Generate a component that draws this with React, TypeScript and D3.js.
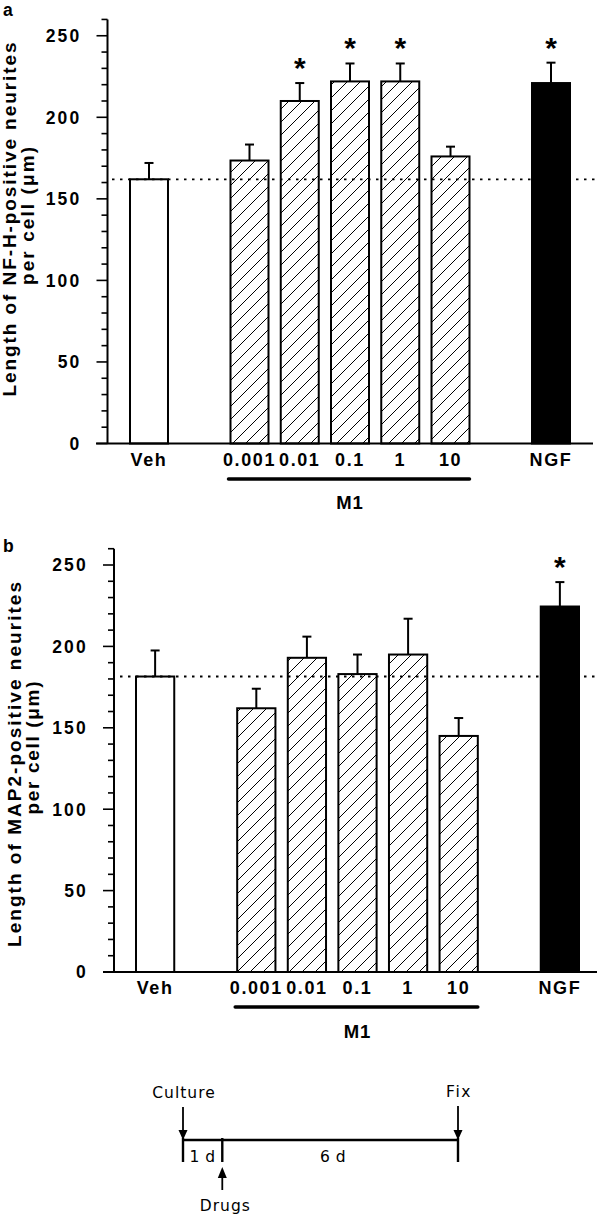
import React from "react";
import * as d3 from "d3";

// ---- data ----
const categories = ["Veh", "0.001", "0.01", "0.1", "1", "10", "NGF"];
// slot names on the x band scale (gap entries are empty slots)
const slotNames = ["Veh", "gapA", "0.001", "0.01", "0.1", "1", "10", "gapB", "NGF"];
const barStyles = ["open", "hatch", "hatch", "hatch", "hatch", "hatch", "solid"];
const groupLabel = "M1";
const groupMembers = ["0.001", "0.01", "0.1", "1", "10"];

const nfhMean = [162, 173.5, 210, 222, 222, 176, 221];
const nfhSem = [10, 9.8, 11, 11, 11, 6, 12.5];
const nfhSig = [false, false, true, true, true, false, true];

const map2Mean = [181.5, 162, 193, 183, 195, 145, 224.5];
const map2Sem = [16, 12, 13, 12, 22, 11, 15];
const map2Sig = [false, false, false, false, false, false, true];

const yMajorTicks = [0, 50, 100, 150, 200, 250];
const yDomainMax = 260;

const titleA = ["Length of NF-H-positive neurites", "per cell (\u03bcm)"];
const titleB = ["Length of MAP2-positive neurites", "per cell (\u03bcm)"];

const timelineLabels = { start: "Culture", drug: "Drugs", end: "Fix", d1: "1 d", d6: "6 d" };
const timelineDays = [0, 1, 7]; // culture, drugs, fix (days)

const FONT = "'Liberation Sans', Arial, Helvetica, sans-serif";

type PanelGeo = {
  letter: string;
  letterY: number;
  axisX: number;
  y0: number;
  yTop: number;
  bandRange: [number, number];
  baseLeft: number;
  baseRight: number;
  dotLeft: number;
  catLabelY: number;
  groupLineY: number;
  groupTextY: number;
  t1x: number;
  t1cy: number;
  t1len: number;
  t2x: number;
  t2cy: number;
  t2len: number;
};

function Panel({ geo, mean, sem, sig, title }: { geo: PanelGeo; mean: number[]; sem: number[]; sig: boolean[]; title: string[] }) {
  const y = d3.scaleLinear().domain([0, yDomainMax]).range([geo.y0, geo.yTop]);
  const x = d3.scaleBand<string>().domain(slotNames).range(geo.bandRange).paddingInner(0.244).paddingOuter(0);
  const bw = x.bandwidth();
  const minorTicks = d3.range(0, yDomainMax + 1, 10).filter((v) => v % 50 !== 0);
  const refY = y(mean[0]);
  const gFirst = x(groupMembers[0])!;
  const gLast = x(groupMembers[groupMembers.length - 1])! + bw;

  return (
    <g>
      <text x={3} y={geo.letterY} fontFamily={FONT} fontWeight="bold" fontSize={17.5}>
        {geo.letter}
      </text>
      {/* y title */}
      <text
        transform={`translate(${geo.t1x},${geo.t1cy}) rotate(-90)`}
        textAnchor="middle"
        fontFamily={FONT}
        fontWeight="bold"
        fontSize={19}
        textLength={geo.t1len}
        lengthAdjust="spacing"
      >
        {title[0]}
      </text>
      <text
        transform={`translate(${geo.t2x},${geo.t2cy}) rotate(-90)`}
        textAnchor="middle"
        fontFamily={FONT}
        fontWeight="bold"
        fontSize={19}
        textLength={geo.t2len}
        lengthAdjust="spacing"
      >
        {title[1]}
      </text>
      {/* bars */}
      {categories.map((c, i) => {
        const bx = x(c)!;
        const top = y(mean[i]);
        const fill = barStyles[i] === "open" ? "white" : barStyles[i] === "solid" ? "black" : "url(#hatch)";
        return (
          <rect key={c} x={bx} y={top} width={bw} height={geo.y0 - top} fill={fill} stroke="black" strokeWidth={2} />
        );
      })}
      {/* reference dotted line */}
      <line x1={geo.dotLeft} x2={597} y1={refY} y2={refY} stroke="black" strokeWidth={1.8} strokeDasharray="2.5 5.5" />
      {/* error bars */}
      {categories.map((c, i) => {
        const cx = x(c)! + bw / 2;
        const top = y(mean[i]);
        const et = y(mean[i] + sem[i]);
        return (
          <g key={"e" + c}>
            <line x1={cx} x2={cx} y1={top} y2={et} stroke="black" strokeWidth={2} />
            <line x1={cx - 4.5} x2={cx + 4.5} y1={et} y2={et} stroke="black" strokeWidth={2} />
          </g>
        );
      })}
      {/* significance stars */}
      {categories.map((c, i) =>
        sig[i] ? (
          <text
            key={"s" + c}
            x={x(c)! + bw / 2}
            y={y(mean[i] + sem[i]) - 22 + 17}
            textAnchor="middle"
            fontFamily={FONT}
            fontWeight="bold"
            fontSize={30}
          >
            *
          </text>
        ) : null
      )}
      {/* y axis */}
      <line x1={geo.axisX} x2={geo.axisX} y1={geo.yTop} y2={geo.y0} stroke="black" strokeWidth={2} />
      {yMajorTicks.map((t) => (
        <g key={"t" + t}>
          <line x1={geo.axisX - 11} x2={geo.axisX} y1={y(t)} y2={y(t)} stroke="black" strokeWidth={1.6} />
          <text
            x={geo.axisX - 26}
            y={y(t)}
            dy="0.36em"
            textAnchor="end"
            fontFamily={FONT}
            fontWeight="bold"
            fontSize={17.5}
            letterSpacing={2.2}
          >
            {t}
          </text>
        </g>
      ))}
      {minorTicks.map((t) => (
        <line key={"m" + t} x1={geo.axisX - 6} x2={geo.axisX} y1={y(t)} y2={y(t)} stroke="black" strokeWidth={1.6} />
      ))}
      {/* x baseline */}
      <line x1={geo.baseLeft} x2={geo.baseRight} y1={geo.y0} y2={geo.y0} stroke="black" strokeWidth={2} />
      {/* category labels */}
      {categories.map((c) => (
        <text
          key={"l" + c}
          x={x(c)! + bw / 2}
          y={geo.catLabelY}
          textAnchor="middle"
          fontFamily={FONT}
          fontWeight="bold"
          fontSize={18}
          letterSpacing={1.6}
        >
          {c}
        </text>
      ))}
      {/* group bracket */}
      <line x1={gFirst - 2} x2={gLast} y1={geo.groupLineY} y2={geo.groupLineY} stroke="black" strokeWidth={3.5} strokeLinecap="round" />
      <text
        x={(gFirst + gLast) / 2}
        y={geo.groupTextY}
        textAnchor="middle"
        fontFamily={FONT}
        fontWeight="bold"
        fontSize={18.5}
        letterSpacing={1}
      >
        {groupLabel}
      </text>
    </g>
  );
}

const geoA: PanelGeo = {
  letter: "a",
  letterY: 16,
  axisX: 107.5,
  y0: 443.5,
  yTop: 443.5 - yDomainMax * 1.631,
  bandRange: [130, 570],
  baseLeft: 96,
  baseRight: 593,
  dotLeft: 112,
  catLabelY: 466,
  groupLineY: 479,
  groupTextY: 509,
  t1x: 16,
  t1cy: 219.5,
  t1len: 354,
  t2x: 34,
  t2cy: 216,
  t2len: 138,
};

const geoB: PanelGeo = {
  letter: "b",
  letterY: 552,
  axisX: 114,
  y0: 972,
  yTop: 972 - yDomainMax * 1.628,
  bandRange: [136, 579],
  baseLeft: 103,
  baseRight: 597,
  dotLeft: 120,
  catLabelY: 994,
  groupLineY: 1007,
  groupTextY: 1038,
  t1x: 21,
  t1cy: 764.5,
  t1len: 365,
  t2x: 39,
  t2cy: 748,
  t2len: 133,
};

function Timeline() {
  const tx = d3.scaleLinear().domain([0, 7]).range([183, 458]);
  const lineY = 1140;
  const xs = timelineDays.map((d) => tx(d));
  const tf = "'DejaVu Sans', 'Liberation Sans', sans-serif";
  const downArrow = (cx: number, y1: number, tip: number) => (
    <g>
      <line x1={cx} x2={cx} y1={y1} y2={tip - 8} stroke="black" strokeWidth={1.8} />
      <path d={`M${cx - 4.5},${tip - 10} L${cx + 4.5},${tip - 10} L${cx},${tip} Z`} fill="black" />
    </g>
  );
  return (
    <g>
      <line x1={xs[0]} x2={xs[2]} y1={lineY} y2={lineY} stroke="black" strokeWidth={2.6} />
      {xs.map((v, i) => (
        <line key={i} x1={v} x2={v} y1={lineY - 2} y2={1162} stroke="black" strokeWidth={2.4} />
      ))}
      {downArrow(xs[0], 1107, lineY)}
      {downArrow(xs[2], 1106, lineY)}
      {/* drugs up arrow */}
      <line x1={xs[1]} x2={xs[1]} y1={1176} y2={1190} stroke="black" strokeWidth={1.8} />
      <path d={`M${xs[1] - 4.5},${1178} L${xs[1] + 4.5},${1178} L${xs[1]},${1167} Z`} fill="black" />
      <text x={xs[0] + 1} y={1098} textAnchor="middle" fontFamily={tf} fontSize={15.5} letterSpacing={1}>
        {timelineLabels.start}
      </text>
      <text x={xs[2] + 1} y={1097} textAnchor="middle" fontFamily={tf} fontSize={15.5} letterSpacing={1.5}>
        {timelineLabels.end}
      </text>
      <text x={(xs[0] + xs[1]) / 2} y={1162} textAnchor="middle" fontFamily={tf} fontSize={15.5} letterSpacing={0.5}>
        {timelineLabels.d1}
      </text>
      <text x={(xs[1] + xs[2]) / 2 - 7} y={1162} textAnchor="middle" fontFamily={tf} fontSize={15.5} letterSpacing={0.5}>
        {timelineLabels.d6}
      </text>
      <text x={xs[1] + 3} y={1211} textAnchor="middle" fontFamily={tf} fontSize={15.5} letterSpacing={1}>
        {timelineLabels.drug}
      </text>
    </g>
  );
}

export default function App() {
  return (
    <svg
      width={600}
      height={1217}
      viewBox="0 0 600 1217"
      style={{ position: "absolute", left: 0, top: 0, background: "white", display: "block" }}
    >
      <defs>
        <pattern id="hatch" patternUnits="userSpaceOnUse" width={13} height={13}>
          <rect width={13} height={13} fill="white" />
          <path d="M-1,14 L14,-1 M-1,1 L1,-1 M12,14 L14,12" stroke="black" strokeWidth={1} />
        </pattern>
      </defs>
      <rect width={600} height={1217} fill="white" />
      <Panel geo={geoA} mean={nfhMean} sem={nfhSem} sig={nfhSig} title={titleA} />
      <Panel geo={geoB} mean={map2Mean} sem={map2Sem} sig={map2Sig} title={titleB} />
      <Timeline />
    </svg>
  );
}
